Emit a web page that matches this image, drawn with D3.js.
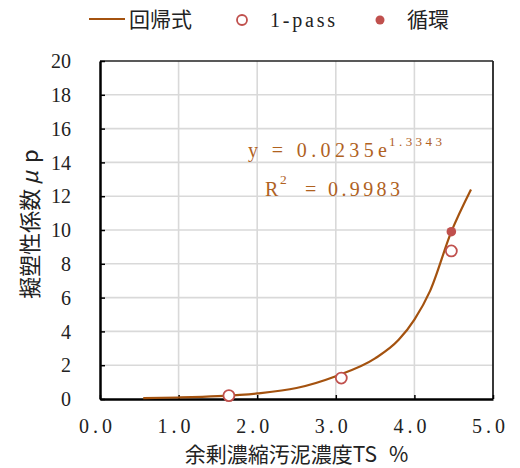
<!DOCTYPE html>
<html>
<head>
<meta charset="utf-8">
<script src="https://cdn.jsdelivr.net/npm/d3@7"></script>
<style>
  html, body { margin: 0; padding: 0; background: #fff; }
  svg { display: block; }
  .num { font-family: "Liberation Serif", "DejaVu Serif", serif; }
  .cjk { font-family: "Noto Sans CJK JP", "Noto Sans CJK SC", sans-serif; }
</style>
</head>
<body>
<svg id="chart" width="520" height="468"></svg>
<script>
// Regression curve (TS %, μp)
const curveTS = [0.55, 1.0, 1.5, 2.0, 2.5, 3.0, 3.5, 3.8, 4.0, 4.2, 4.47, 4.72];
const curveMu = [0.05, 0.09, 0.17, 0.33, 0.65, 1.35, 2.4, 3.5, 4.7, 6.4, 9.9, 12.4];

// Measured points
const onePassTS = [1.64, 3.07, 4.47];
const onePassMu = [0.2, 1.24, 8.76];
const loopTS = [4.47];
const loopMu = [9.9];

const xTicks = [0, 1, 2, 3, 4, 5];
const yTicks = [0, 2, 4, 6, 8, 10, 12, 14, 16, 18, 20];
const legendLabels = ["回帰式", "1-pass", "循環"];
const xTitleParts = ["余剰濃縮汚泥濃度", "TS", "%"];
const yTitleParts = ["擬塑性係数", "μ", "p"];
const eqMain = "y = 0.0235e";
const eqExp = "1.3343";
const r2Main = "R";
const r2Exp = "2";
const r2Value = "= 0.9983";

const lineColor = "#a4520f";
const textBrown = "#b0621f";
const pointColor = "#c0504d";

const svg = d3.select("#chart");
const plotL = 100, plotR = 493, plotT = 61, plotB = 399;

const x = d3.scaleLinear().domain([0, 5]).range([plotL, plotR]);
const y = d3.scaleLinear().domain([0, 20]).range([plotB, plotT]);

// Grid
svg.append("g").selectAll("line").data(yTicks.slice(1, -1)).join("line")
  .attr("x1", plotL).attr("x2", plotR)
  .attr("y1", d => y(d)).attr("y2", d => y(d))
  .attr("stroke", "#d9d9d9").attr("stroke-width", 1.6);
svg.append("g").selectAll("line").data(xTicks.slice(1, -1)).join("line")
  .attr("x1", d => x(d)).attr("x2", d => x(d))
  .attr("y1", plotT).attr("y2", plotB)
  .attr("stroke", "#d9d9d9").attr("stroke-width", 1.6);

// Frame
svg.append("line").attr("x1", plotL).attr("x2", plotR).attr("y1", plotT).attr("y2", plotT)
  .attr("stroke", "#222").attr("stroke-width", 1.6);
svg.append("line").attr("x1", plotR).attr("x2", plotR).attr("y1", plotT).attr("y2", plotB)
  .attr("stroke", "#222").attr("stroke-width", 1.8);

// Axes with inward ticks
const yAxis = d3.axisLeft(y).tickValues(yTicks).tickSizeInner(-5).tickSizeOuter(0)
  .tickFormat(d3.format("d"));
const gy = svg.append("g").attr("transform", `translate(${plotL},0)`).call(yAxis);
gy.select(".domain").attr("stroke", "#000").attr("stroke-width", 2.5);
gy.selectAll(".tick line").attr("stroke", "#000").attr("stroke-width", 1.5);
gy.selectAll(".tick text").attr("class", "num").attr("font-size", 20)
  .attr("fill", "#222").attr("x", -29).attr("dy", "0.33em");

const xAxis = d3.axisBottom(x).tickValues(xTicks).tickSizeInner(-4).tickSizeOuter(0)
  .tickFormat(d3.format(".1f"));
const gx = svg.append("g").attr("transform", `translate(0,${plotB})`).call(xAxis);
gx.select(".domain").attr("stroke", "#000").attr("stroke-width", 2.5);
gx.selectAll(".tick line").attr("stroke", "#000").attr("stroke-width", 1.5);
gx.selectAll(".tick text").attr("class", "num").attr("font-size", 20)
  .attr("fill", "#222").attr("y", 34).attr("dy", 0).attr("x", -5)
  .attr("textLength", 33).attr("lengthAdjust", "spacing");

// Regression curve
const curvePts = curveTS.map((t, i) => [t, curveMu[i]]);
svg.append("path").datum(curvePts)
  .attr("fill", "none").attr("stroke", lineColor).attr("stroke-width", 2.2)
  .attr("d", d3.line().x(d => x(d[0])).y(d => y(d[1])).curve(d3.curveMonotoneX));

// 1-pass points (hollow)
svg.append("g").selectAll("circle").data(onePassTS.map((t, i) => [t, onePassMu[i]])).join("circle")
  .attr("cx", d => x(d[0])).attr("cy", d => y(d[1])).attr("r", 5.5)
  .attr("fill", "#fff").attr("stroke", pointColor).attr("stroke-width", 1.8);

// Circulation points (filled)
svg.append("g").selectAll("circle").data(loopTS.map((t, i) => [t, loopMu[i]])).join("circle")
  .attr("cx", d => x(d[0])).attr("cy", d => y(d[1])).attr("r", 4.8)
  .attr("fill", pointColor);

// Equation labels
svg.append("text").attr("class", "num").attr("fill", textBrown).attr("font-size", 20)
  .attr("x", 248).attr("y", 157).attr("textLength", 139)
  .attr("lengthAdjust", "spacing").text(eqMain);
svg.append("text").attr("class", "num").attr("fill", textBrown).attr("font-size", 13)
  .attr("x", 389).attr("y", 146).attr("textLength", 53).attr("lengthAdjust", "spacing").text(eqExp);

svg.append("text").attr("class", "num").attr("fill", textBrown).attr("font-size", 20)
  .attr("x", 265).attr("y", 196).text(r2Main);
svg.append("text").attr("class", "num").attr("fill", textBrown).attr("font-size", 13.5)
  .attr("x", 280).attr("y", 184).text(r2Exp);
svg.append("text").attr("class", "num").attr("fill", textBrown).attr("font-size", 20)
  .attr("x", 305).attr("y", 196).attr("textLength", 95).attr("lengthAdjust", "spacing").text(r2Value);

// Axis titles
const xt = svg.append("text").attr("class", "cjk").attr("font-size", 21).attr("fill", "#222")
  .attr("text-anchor", "middle").attr("x", (plotL + plotR) / 2).attr("y", 462);
xt.append("tspan").text(xTitleParts[0]);
xt.append("tspan").text(xTitleParts[1]);
xt.append("tspan").attr("dx", 12).text(xTitleParts[2]);

const yt = svg.append("text").attr("class", "cjk").attr("font-size", 22).attr("fill", "#222")
  .attr("text-anchor", "middle").attr("dominant-baseline", "central")
  .attr("transform", "translate(28,224) rotate(-90)");
yt.append("tspan").text(yTitleParts[0]);
yt.append("tspan").attr("dx", 4).attr("font-style", "italic").text(yTitleParts[1]);
yt.append("tspan").attr("dx", 8).text(yTitleParts[2]);

// Legend
const lg = svg.append("g");
lg.append("line").attr("x1", 89).attr("x2", 125).attr("y1", 19).attr("y2", 19)
  .attr("stroke", lineColor).attr("stroke-width", 2.2);
lg.append("text").attr("class", "cjk").attr("font-size", 21).attr("fill", "#222")
  .attr("x", 129).attr("y", 27).text(legendLabels[0]);
lg.append("circle").attr("cx", 242).attr("cy", 20).attr("r", 5)
  .attr("fill", "#fff").attr("stroke", pointColor).attr("stroke-width", 1.8);
lg.append("text").attr("class", "num").attr("font-size", 20).attr("fill", "#222")
  .attr("x", 270).attr("y", 27).attr("textLength", 65).attr("lengthAdjust", "spacing").text(legendLabels[1]);
lg.append("circle").attr("cx", 380).attr("cy", 20).attr("r", 4.5).attr("fill", pointColor);
lg.append("text").attr("class", "cjk").attr("font-size", 21).attr("fill", "#222")
  .attr("x", 407).attr("y", 27).text(legendLabels[2]);
</script>
</body>
</html>
